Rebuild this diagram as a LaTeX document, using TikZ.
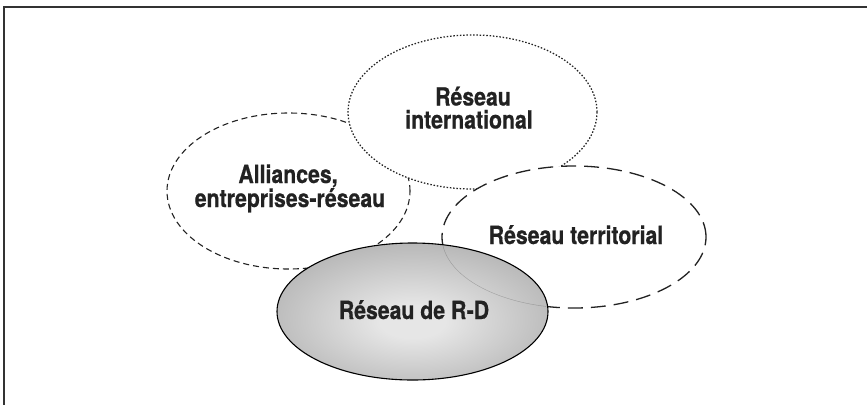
\documentclass[tikz,border=0pt]{standalone}
\usepackage{fontspec}
\newfontfamily\labelfont{TeX Gyre Heros}[FakeStretch=0.85, FakeBold=0.6]
\usetikzlibrary{shapes.geometric}

\definecolor{inkdark}{HTML}{222222}
\definecolor{framegray}{HTML}{333333}
\definecolor{rdlight}{HTML}{E6E6E6}
\definecolor{rddark}{HTML}{888888}

% soft grey glow for the central R-D network
\pgfdeclareradialshading{rdglow}{\pgfpoint{0bp}{-4bp}}{%
  color(0bp)=(rdlight); color(6bp)=(rdlight);
  color(50bp)=(rddark); color(75bp)=(rddark)}

\tikzset{
  net/.style={ellipse, inner sep=0pt, fill=white},
  netintl/.style={net, draw=inkdark, line width=1.25bp, dash pattern=on 1.5bp off 1.8bp},
  netalli/.style={net, draw=inkdark, line width=1.1bp, dash pattern=on 6bp off 4bp},
  netterr/.style={net, draw=inkdark, line width=1.3bp, dash pattern=on 15bp off 8bp},
  netrd/.style={ellipse, inner sep=0pt, draw=black, line width=1.1bp, shading=rdglow},
  lbl/.style={text=inkdark, anchor=base, inner sep=0pt,
    font=\labelfont\bfseries\fontsize{25bp}{26bp}\selectfont},
}

\begin{document}
\begin{tikzpicture}[x=1bp,y=-1bp]
  \useasboundingbox (0,0) rectangle (867,404);
  \clip (0,0) rectangle (867,404);

  % outer frame (only the left and top edges fall inside the page)
  \draw[framegray, line width=1.5bp] (4,420) -- (4,7) -- (880,7);

  % overlapping networks, back to front
  \node[netalli, minimum width=243bp, minimum height=156bp] (alli) at (288.5,191) {};
  \node[netintl, minimum width=249bp, minimum height=154bp] (intl) at (472.5,112) {};
  \node[netterr, minimum width=264bp, minimum height=142bp] (terr) at (574,237) {};
  \node[netrd, minimum width=271bp, minimum height=137bp] (rd) at (412.5,311.5) {};

  % faint trace of the territorial outline across the R-D network
  \begin{scope}
    \clip (rd.center) ellipse [x radius=134bp, y radius=67.5bp];
    \draw[gray!70!black, line width=0.4bp, opacity=0.4]
      (terr.center) ellipse [x radius=132bp, y radius=71bp];
  \end{scope}

  % labels, placed by their baselines
  \node[lbl] (intlA) at (473,105.5) {Réseau};
  \node[lbl] (intlB) at (469,128.5) {international};
  \node[lbl] (alliA) at (288,183) {Alliances,};
  \node[lbl] (alliB) at (290,207) {entreprises-réseau};
  \node[lbl] (terrL) at (576,244) {Réseau territorial};
  \node[lbl] (rdL)   at (414,319) {Réseau de R-D};
\end{tikzpicture}
\end{document}
